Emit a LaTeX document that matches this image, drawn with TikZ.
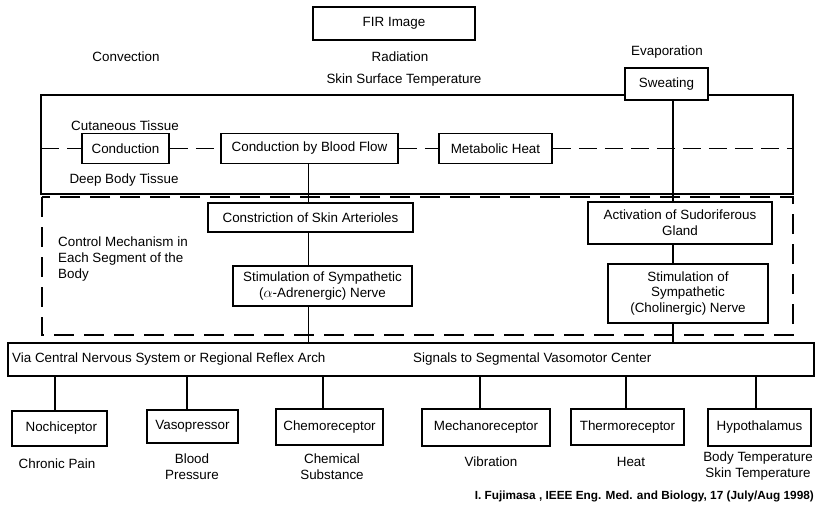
\documentclass[tikz,border=0pt]{standalone}
\usepackage{fontspec}
\setmainfont{Liberation Sans}
\usepackage{tikz}
\usetikzlibrary{calc}
\newcommand{\txt}{\fontsize{13.4}{15.8}\selectfont}
\newcommand{\reffont}{\fontsize{11.8}{14}\selectfont\bfseries}

\begin{document}
\begin{tikzpicture}[x=1pt,y=-1pt,font=\txt,
				box/.style={draw,line width=1.7pt,fill=white,inner sep=0pt,align=center},
				lbl/.style={inner sep=0pt,align=center},
				ln/.style={line width=1.7pt},
				tdash/.style={line width=1.6pt,dash pattern=on 18pt off 8pt},
				bdash/.style={line width=2.1pt,dash pattern=on 20pt off 10pt}]
				
				\useasboundingbox (0,0) rectangle (817,504);
				
				\node[box,minimum width=162pt,minimum height=33pt] (fir) at (394,23.5) {FIR Image};
				\node[lbl] (conv) at (126,57) {Convection};
				\node[lbl] (rad) at (400,57) {Radiation};
				\node[lbl] (evap) at (667,52) {Evaporation};
				\node[lbl] (skin) at (404,80) {Skin Surface Temperature};
				
				\draw[ln] (41,95) rectangle (793,194);
				\node[box,minimum width=83pt,minimum height=32pt] (sweat) at (666.5,84) {Sweating};
				
				\node[lbl] (cut) at (125,126) {Cutaneous Tissue};
				\node[lbl] (deep) at (124,180) {Deep Body Tissue};
				\node[box,minimum width=87pt,minimum height=30pt] (cond) at (125.5,148.5) {Conduction};
				\node[box,minimum width=177pt,minimum height=30pt] (cbf) at (309.5,148.5) {Conduction by Blood Flow};
				\node[box,minimum width=113pt,minimum height=30pt] (meta) at (495.5,148.5) {Metabolic Heat};
				\coordinate (dl) at (41,148.5);
				\coordinate (dr) at (793,148.5);
				\draw[tdash] (dl) -- (cond.west);
				\draw[tdash] (cond.east) -- (cbf.west);
				\draw[tdash] (cbf.east) -- (meta.west);
				\draw[tdash] (meta.east) -- (dr);
				
				\draw[bdash] (42,197) rectangle (793,335);
				\node[lbl,align=left,anchor=west] (ctrl) at (58,259)
				{Control Mechanism in\\Each Segment of the\\Body};
				\node[box,minimum width=205pt,minimum height=29pt] (constr) at (310.5,217.5) {Constriction of Skin Arterioles};
				\node[box,minimum width=179pt,minimum height=40pt] (stima) at (322.5,286)
				{Stimulation of Sympathetic\\($\alpha$-Adrenergic) Nerve};
				\node[box,minimum width=184pt,minimum height=42pt] (activ) at (680,223)
				{Activation of Sudoriferous\\Gland};
				\node[box,minimum width=160pt,minimum height=59pt] (stimc) at (688,293.5)
				{Stimulation of\\Sympathetic\\(Cholinergic) Nerve};
				
				\node[draw,line width=1.7pt,inner sep=0pt,minimum width=806pt,minimum height=33pt] (via) at (411,359.5) {};
				\node[lbl,anchor=west] (cns) at (12,359) {Via Central Nervous System or Regional Reflex Arch};
				\node[lbl,anchor=west] (sig) at (413,359) {Signals to Segmental Vasomotor Center};
				
				\coordinate (bf) at (308.5,0);
				\coordinate (ev) at (673,0);
				\draw[ln] (cbf.south -| bf) -- (constr.north -| bf);
				\draw[ln] (constr.south -| bf) -- (stima.north -| bf);
				\draw[ln] (stima.south -| bf) -- (via.north -| bf);
				\draw[ln] (sweat.south -| ev) -- (activ.north -| ev);
				\draw[ln] (activ.south -| ev) -- (stimc.north -| ev);
				\draw[ln] (stimc.south -| ev) -- (via.north -| ev);
				
				\node[box,minimum width=95pt,minimum height=35pt] (noci) at (59.5,428.5) {\ Nochiceptor};
				\node[box,minimum width=91pt,minimum height=33pt] (vaso) at (192.5,426.5) {Vasopressor};
				\node[box,minimum width=107pt,minimum height=36pt] (chemo) at (329.5,427) {Chemoreceptor};
				\node[box,minimum width=128pt,minimum height=37pt] (mech) at (486,427.5) {Mechanoreceptor};
				\node[box,minimum width=113pt,minimum height=36pt] (thermo) at (627.5,427) {Thermoreceptor};
				\node[box,minimum width=103pt,minimum height=37pt] (hypo) at (759.5,427.5) {Hypothalamus};
				
				\foreach \n/\dx in {noci/-4.5,vaso/-5.5,chemo/-6.5,mech/-6,thermo/-1.5,hypo/-3.5}
				\draw[ln] ([xshift=\dx pt]\n.north) -- ([xshift=\dx pt]\n.north |- via.south);
				
				\node[lbl] (pain) at (57,464) {Chronic Pain};
				\node[lbl] (bp) at (192,466.5) {Blood\\Pressure};
				\node[lbl] (chs) at (332,466.5) {Chemical\\Substance};
				\node[lbl] (vib) at (491,462) {Vibration};
				\node[lbl] (heat) at (631,462) {Heat};
				\node[lbl] (temp) at (758,466) {Body Temperature\\Skin Temperature};
				
				\node[lbl,anchor=east,font=\reffont] (ref) at (814,496)
				{I. Fujimasa , IEEE Eng. Med. and Biology, 17 (July/Aug 1998)};
			\end{tikzpicture}
\end{document}
